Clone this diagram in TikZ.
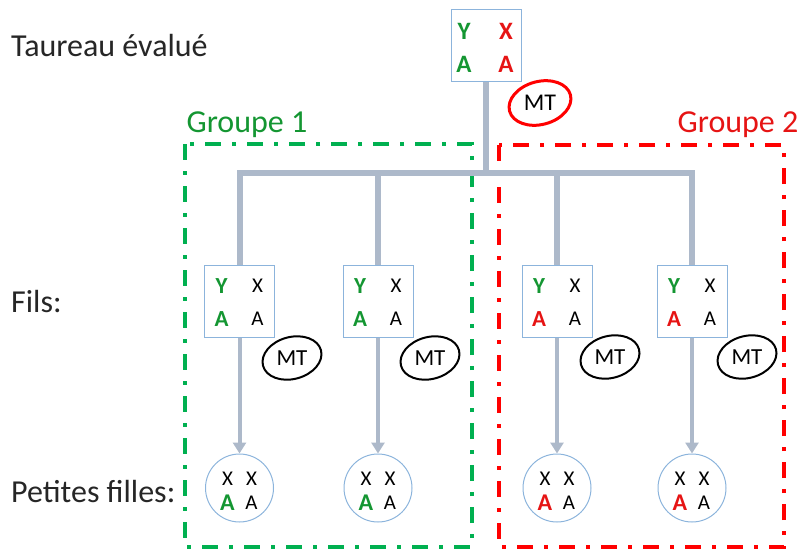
\documentclass[tikz,border=0pt]{standalone}
\usepackage{fontspec}
\setmainfont{Carlito}
\usetikzlibrary{shapes.geometric,arrows.meta}
\definecolor{conn}{RGB}{173,185,202}
\definecolor{boxb}{RGB}{140,180,220}
\definecolor{grn}{RGB}{0,176,80}
\definecolor{grntxt}{RGB}{20,150,50}
\definecolor{redd}{RGB}{255,0,0}
\definecolor{redtxt}{RGB}{230,20,20}
\tikzset{
  genobox/.style={draw=boxb, line width=1pt, rectangle, minimum width=70pt, minimum height=72pt, inner sep=0pt},
  gcircle/.style={draw=boxb, line width=1pt, circle, minimum size=68pt, inner sep=0pt},
  mtell/.style={ellipse, line width=2pt, minimum width=60pt, minimum height=42pt, inner sep=0pt, rotate=15, font=\fontsize{23}{23}\selectfont},
  lbl/.style={anchor=west, inner sep=0pt, font=\fontsize{32}{34}\selectfont, text=black!85},
  grplbl/.style={font=\fontsize{32}{34}\selectfont},
  bigl/.style={font=\fontsize{25}{25}\selectfont\bfseries, inner sep=0pt},
  smallblk/.style={font=\fontsize{21}{21}\selectfont, inner sep=0pt, text=black},
  trunk/.style={draw=conn, line width=6pt, line join=miter},
  arr/.style={draw=conn, line width=4pt, -{Triangle[width=13pt,length=11pt]}},
  grpframe/.style={line width=4pt, dash pattern=on 16pt off 11pt on 4pt off 11pt}
}
\begin{document}
\begin{tikzpicture}[x=1pt,y=-1pt]
\useasboundingbox (0,0) rectangle (803,549);
% labels
\node[lbl] (l1) at (11,46) {Taureau évalué};
\node[lbl] (l2) at (11,302) {Fils:};
\node[lbl] (l3) at (11,492) {Petites filles:};
\node[grplbl, text=grntxt] (g1) at (247,125) {Groupe 1};
\node[grplbl, text=redtxt] (g2) at (738,125) {Groupe 2};
% group frames
\draw[grpframe, draw=grn] (185,144) rectangle (472,547);
\draw[grpframe, draw=redd] (499,145) rectangle (784,547);
% top bull
\node[genobox] (t) at (486,45.5) {};
\node[bigl, text=grntxt] (tY) at (464,31) {Y};
\node[bigl, text=redtxt] (tX) at (506,31) {X};
\node[bigl, text=grntxt] (tA1) at (464,64) {A};
\node[bigl, text=redtxt] (tA2) at (506,64) {A};
% sons
\foreach \n/\x/\c in {1/239.5/grntxt, 2/378/grntxt, 3/557/redtxt, 4/692/redtxt}{
  \node[genobox] (s\n) at (\x,301) {};
  \node[bigl, text=grntxt, font=\fontsize{23}{23}\selectfont\bfseries] (s\n Y) at (\x-18,286) {Y};
  \node[smallblk] (s\n X) at (\x+18,286) {X};
  \node[bigl, text=\c, font=\fontsize{23}{23}\selectfont\bfseries] (s\n A) at (\x-18,319) {A};
  \node[smallblk] (s\n B) at (\x+18,319) {A};
  \node[gcircle] (c\n) at (\x,488) {};
  \node[smallblk] (c\n X1) at (\x-12,479) {X};
  \node[smallblk] (c\n X2) at (\x+12,479) {X};
  \node[bigl, text=\c, font=\fontsize{24}{24}\selectfont\bfseries] (c\n A) at (\x-12,503) {A};
  \node[smallblk] (c\n B) at (\x+12,503) {A};
  \draw[arr] (s\n.south) -- (c\n.north);
}
% MT ellipses
\node[mtell, draw=redd, line width=3pt, minimum width=63pt, minimum height=43pt, font=\fontsize{24}{24}\selectfont] (mt0) at (540,103) {\rotatebox{-15}{MT}};
\node[mtell, draw=black] (mt1) at (292,358) {\rotatebox{-15}{MT}};
\node[mtell, draw=black] (mt2) at (430,358) {\rotatebox{-15}{MT}};
\node[mtell, draw=black] (mt3) at (610,357) {\rotatebox{-15}{MT}};
\node[mtell, draw=black] (mt4) at (747,357) {\rotatebox{-15}{MT}};
% tree connectors
\coordinate (bar) at (486,173);
\draw[trunk] (t.south) -- (bar);
\draw[trunk] (s1.north) -- (s1.north |- bar) -- (s4.north |- bar) -- (s4.north);
\draw[trunk] (s2.north) -- (s2.north |- bar);
\draw[trunk] (s3.north) -- (s3.north |- bar);
\end{tikzpicture}
\end{document}
